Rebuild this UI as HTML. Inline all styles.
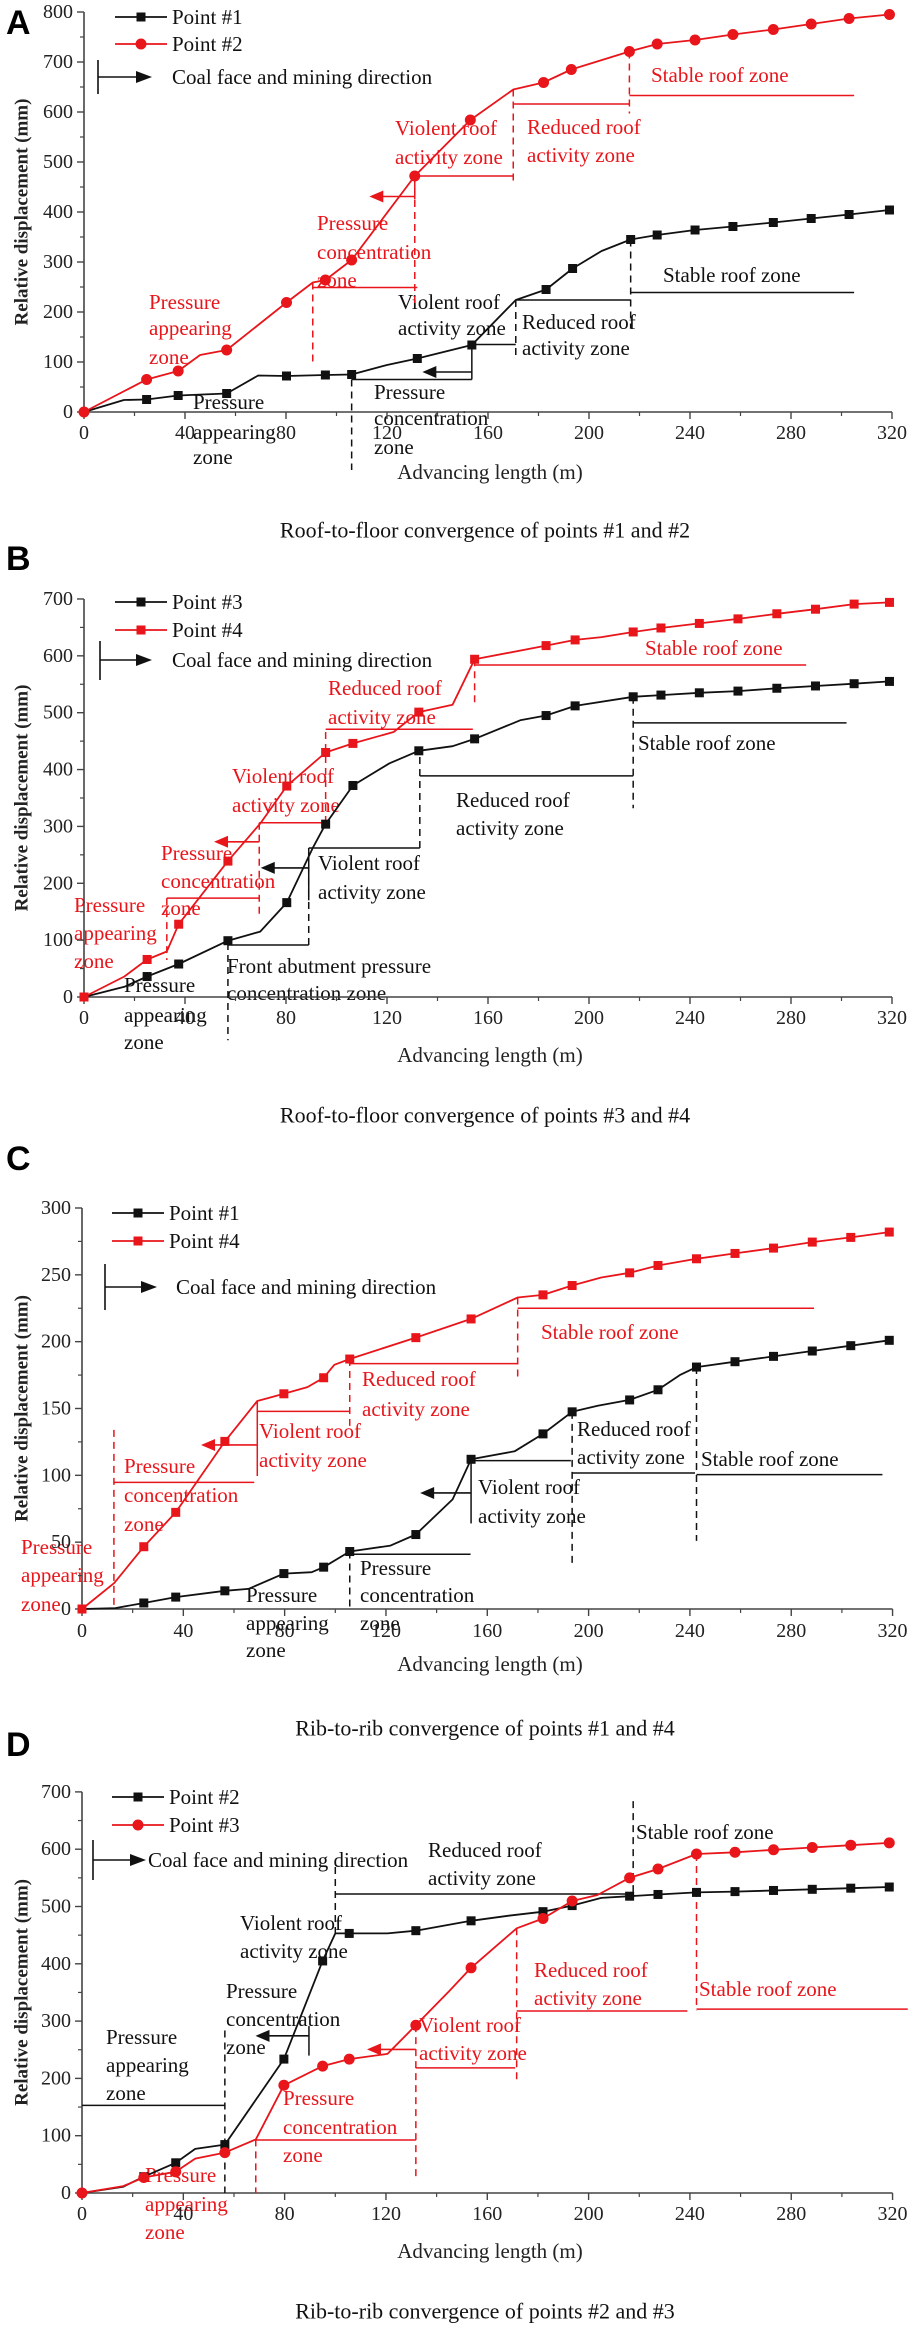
<!DOCTYPE html>
<html><head><meta charset="utf-8"><style>
html,body{margin:0;padding:0;background:#fff}
svg{display:block}
text{font-family:"Liberation Serif","Times New Roman",serif}
.z{font-size:21px}
.r{fill:#e8151b}
.k{fill:#111}
.t{font-size:20px;fill:#222}
.cap{font-size:22px;fill:#111}
.let{font-family:"Liberation Sans",Arial,sans-serif;font-weight:bold;font-size:34px;fill:#000}
</style></head><body>
<svg id="fig" width="913" height="2327" viewBox="0 0 913 2327" xmlns="http://www.w3.org/2000/svg">
<g>
<text class="let" x="6" y="34">A</text>
<text class="z r" x="651" y="75" dominant-baseline="central">Stable roof zone</text>
<text class="z r" x="527" y="127" dominant-baseline="central">Reduced roof</text>
<text class="z r" x="527" y="155" dominant-baseline="central">activity zone</text>
<text class="z r" x="395" y="128" dominant-baseline="central">Violent roof</text>
<text class="z r" x="395" y="157" dominant-baseline="central">activity zone</text>
<text class="z r" x="317" y="223" dominant-baseline="central">Pressure</text>
<text class="z r" x="317" y="252" dominant-baseline="central">concentration</text>
<text class="z r" x="317" y="280" dominant-baseline="central">zone</text>
<text class="z r" x="149" y="302" dominant-baseline="central">Pressure</text>
<text class="z r" x="149" y="328" dominant-baseline="central">appearing</text>
<text class="z r" x="149" y="357" dominant-baseline="central">zone</text>
<text class="z k" x="663" y="275" dominant-baseline="central">Stable roof zone</text>
<text class="z k" x="398" y="302" dominant-baseline="central">Violent roof</text>
<text class="z k" x="398" y="328" dominant-baseline="central">activity zone</text>
<text class="z k" x="522" y="322" dominant-baseline="central">Reduced roof</text>
<text class="z k" x="522" y="348" dominant-baseline="central">activity zone</text>
<text class="z k" x="374" y="392" dominant-baseline="central">Pressure</text>
<text class="z k" x="374" y="418" dominant-baseline="central">concentration</text>
<text class="z k" x="374" y="447" dominant-baseline="central">zone</text>
<text class="z k" x="193" y="402" dominant-baseline="central">Pressure</text>
<text class="z k" x="193" y="432" dominant-baseline="central">appearing</text>
<text class="z k" x="193" y="457" dominant-baseline="central">zone</text>
<text class="cap" x="485" y="530" text-anchor="middle" dominant-baseline="central">Roof-to-floor convergence of points #1 and #2</text>
</g>
<g>
<text class="let" x="6" y="570">B</text>
<text class="z r" x="645" y="648" dominant-baseline="central">Stable roof zone</text>
<text class="z r" x="328" y="688" dominant-baseline="central">Reduced roof</text>
<text class="z r" x="328" y="717" dominant-baseline="central">activity zone</text>
<text class="z r" x="232" y="776" dominant-baseline="central">Violent roof</text>
<text class="z r" x="232" y="805" dominant-baseline="central">activity zone</text>
<text class="z r" x="161" y="853" dominant-baseline="central">Pressure</text>
<text class="z r" x="161" y="881" dominant-baseline="central">concentration</text>
<text class="z r" x="161" y="908" dominant-baseline="central">zone</text>
<text class="z r" x="74" y="905" dominant-baseline="central">Pressure</text>
<text class="z r" x="74" y="933" dominant-baseline="central">appearing</text>
<text class="z r" x="74" y="961" dominant-baseline="central">zone</text>
<text class="z k" x="638" y="743" dominant-baseline="central">Stable roof zone</text>
<text class="z k" x="456" y="800" dominant-baseline="central">Reduced roof</text>
<text class="z k" x="456" y="828" dominant-baseline="central">activity zone</text>
<text class="z k" x="318" y="863" dominant-baseline="central">Violent roof</text>
<text class="z k" x="318" y="892" dominant-baseline="central">activity zone</text>
<text class="z k" x="227" y="966" dominant-baseline="central">Front abutment pressure</text>
<text class="z k" x="227" y="993" dominant-baseline="central">concentration zone</text>
<text class="z k" x="124" y="985" dominant-baseline="central">Pressure</text>
<text class="z k" x="124" y="1015" dominant-baseline="central">appearing</text>
<text class="z k" x="124" y="1042" dominant-baseline="central">zone</text>
<text class="cap" x="485" y="1115" text-anchor="middle" dominant-baseline="central">Roof-to-floor convergence of points #3 and #4</text>
</g>
<g>
<text class="let" x="6" y="1170">C</text>
<text class="z r" x="541" y="1332" dominant-baseline="central">Stable roof zone</text>
<text class="z r" x="362" y="1379" dominant-baseline="central">Reduced roof</text>
<text class="z r" x="362" y="1409" dominant-baseline="central">activity zone</text>
<text class="z r" x="259" y="1431" dominant-baseline="central">Violent roof</text>
<text class="z r" x="259" y="1460" dominant-baseline="central">activity zone</text>
<text class="z r" x="124" y="1466" dominant-baseline="central">Pressure</text>
<text class="z r" x="124" y="1495" dominant-baseline="central">concentration</text>
<text class="z r" x="124" y="1524" dominant-baseline="central">zone</text>
<text class="z r" x="21" y="1547" dominant-baseline="central">Pressure</text>
<text class="z r" x="21" y="1575" dominant-baseline="central">appearing</text>
<text class="z r" x="21" y="1604" dominant-baseline="central">zone</text>
<text class="z k" x="478" y="1487" dominant-baseline="central">Violent roof</text>
<text class="z k" x="478" y="1516" dominant-baseline="central">activity zone</text>
<text class="z k" x="577" y="1429" dominant-baseline="central">Reduced roof</text>
<text class="z k" x="577" y="1457" dominant-baseline="central">activity zone</text>
<text class="z k" x="701" y="1459" dominant-baseline="central">Stable roof zone</text>
<text class="z k" x="360" y="1568" dominant-baseline="central">Pressure</text>
<text class="z k" x="360" y="1595" dominant-baseline="central">concentration</text>
<text class="z k" x="360" y="1623" dominant-baseline="central">zone</text>
<text class="z k" x="246" y="1595" dominant-baseline="central">Pressure</text>
<text class="z k" x="246" y="1623" dominant-baseline="central">appearing</text>
<text class="z k" x="246" y="1650" dominant-baseline="central">zone</text>
<text class="cap" x="485" y="1728" text-anchor="middle" dominant-baseline="central">Rib-to-rib convergence of points #1 and #4</text>
</g>
<g>
<text class="let" x="6" y="1756">D</text>
<text class="z k" x="106" y="2037" dominant-baseline="central">Pressure</text>
<text class="z k" x="106" y="2065" dominant-baseline="central">appearing</text>
<text class="z k" x="106" y="2093" dominant-baseline="central">zone</text>
<text class="z k" x="226" y="1991" dominant-baseline="central">Pressure</text>
<text class="z k" x="226" y="2019" dominant-baseline="central">concentration</text>
<text class="z k" x="226" y="2047" dominant-baseline="central">zone</text>
<text class="z k" x="240" y="1923" dominant-baseline="central">Violent roof</text>
<text class="z k" x="240" y="1951" dominant-baseline="central">activity zone</text>
<text class="z k" x="428" y="1850" dominant-baseline="central">Reduced roof</text>
<text class="z k" x="428" y="1878" dominant-baseline="central">activity zone</text>
<text class="z k" x="636" y="1832" dominant-baseline="central">Stable roof zone</text>
<text class="z r" x="145" y="2175" dominant-baseline="central">Pressure</text>
<text class="z r" x="145" y="2204" dominant-baseline="central">appearing</text>
<text class="z r" x="145" y="2232" dominant-baseline="central">zone</text>
<text class="z r" x="283" y="2098" dominant-baseline="central">Pressure</text>
<text class="z r" x="283" y="2127" dominant-baseline="central">concentration</text>
<text class="z r" x="283" y="2155" dominant-baseline="central">zone</text>
<text class="z r" x="419" y="2025" dominant-baseline="central">Violent roof</text>
<text class="z r" x="419" y="2053" dominant-baseline="central">activity zone</text>
<text class="z r" x="534" y="1970" dominant-baseline="central">Reduced roof</text>
<text class="z r" x="534" y="1998" dominant-baseline="central">activity zone</text>
<text class="z r" x="699" y="1989" dominant-baseline="central">Stable roof zone</text>
<text class="cap" x="485" y="2311" text-anchor="middle" dominant-baseline="central">Rib-to-rib convergence of points #2 and #3</text>
</g>
</svg>
<script>
// ---------- data (advancing length m, displacement mm) ----------
const xTicks = [0,40,80,120,160,200,240,280,320];
const yTicksA = [0,100,200,300,400,500,600,700,800];
const yTicksB = [0,100,200,300,400,500,600,700];
const yTicksC = [0,50,100,150,200,250,300];
const yTicksD = [0,100,200,300,400,500,600,700];

// Panel A
const aP1x = [0,15.8,24.8,37.3,56.5,69,80.2,95.6,106,120,132,153.6,171,183,193.5,205,216.5,227,242,257,273,288,303,319];
const aP1y = [0,24,25,33,37,73,72,74,75,94,107,134,224,245,287,322,345,354,364,371,379,387,395,404];
const aP1m = [0,0,1,1,1,0,1,1,1,0,1,1,0,1,1,0,1,1,1,1,1,1,1,1];
const aP2x = [0,24.8,37.3,46,56.5,80.2,90.6,95.6,106,131,153,170,182,193,216,227,242,257,273,288,303,319];
const aP2y = [0,65,82,114,124,219,259,264,304,472,584,645,659,685,721,736,744,755,765,776,787,795];
const aP2m = [1,1,1,0,1,1,0,1,1,1,1,0,1,1,1,1,1,1,1,1,1,1];

// Panel B
const bP3x = [0,16,25,37.5,57,69.8,80.3,90.8,95.7,106.5,121,132.6,146,154.7,173,183,194.5,217.5,228.5,243.7,259,274.4,289.7,305,319];
const bP3y = [0,18,36,58,99,115,166,264,304,372,411,433,441,454,487,495,512,528,531,535,538,543,547,551,555];
const bP3m = [0,0,1,1,1,0,1,0,1,1,0,1,0,1,0,1,1,1,1,1,1,1,1,1,1];
const bP4x = [0,16,25,32.8,37.5,57,69.8,80.3,95.7,106.5,122.6,132.6,146,154.7,183,194.5,205,217.5,228.5,243.7,259,274.4,289.7,305,319];
const bP4y = [0,36,66,80,128,239,305,371,430,446,466,501,514,594,618,628,633,642,649,657,665,674,682,691,694];
const bP4m = [1,0,1,0,1,1,0,1,1,1,0,1,0,1,1,1,0,1,1,1,1,1,1,1,1];

// Panel C
const cP1x = [0,13.2,24.4,37,56.4,65.7,79.7,90.7,95.4,105.7,121.8,131.8,146.3,153.6,170.8,182,193.5,203.6,216.2,227.4,236,242.6,257.8,273,288.3,303.5,318.7];
const cP1y = [0,0.7,4.5,8.9,13.6,15,26.5,27.5,31.3,43,47.4,55.7,82,112,118,131,147.5,152,156.4,164,175,181,185,189,193,197,201];
const cP1m = [0,0,1,1,1,0,1,0,1,1,0,1,0,1,0,1,1,0,1,1,0,1,1,1,1,1,1];
const cP4x = [0,12.7,24.4,37,56.4,69.2,79.7,89,95.4,99.6,105.7,131.8,153.6,172,182,193.5,205,216.2,227.4,242.6,257.8,273,288.3,303.5,318.7];
const cP4y = [0,19.4,46.6,72.3,125.4,155.6,161,166,173,182.7,187,203,217,233,235,242,248,251.5,257,262,266,270,274.5,278,282];
const cP4m = [1,0,1,1,1,0,1,0,1,0,1,1,1,0,1,1,0,1,1,1,1,1,1,1,1];

// Panel D
const dP2x = [0,16.3,24.4,37,44.7,56.4,79.7,95,100,105.5,120.6,131.8,153.6,168.5,182,193.5,205,216.2,227.4,242.6,257.8,273,288.3,303.5,318.7];
const dP2y = [0,11,28.5,52.7,77,84.5,233.7,405,453,453,453,457.8,475,484,491,501.6,515,518,521,524.6,526,528,530,532,534];
const dP2m = [0,0,1,1,0,1,1,1,0,1,0,1,1,0,1,1,0,1,1,1,1,1,1,1,1];
const dP3x = [0,16.3,24.4,37,44.7,56.4,68.6,79.7,95,105.5,120.6,131.8,145,153.6,171.6,182,193.5,203.5,216.2,227.4,242.6,257.8,273,288.3,303.5,318.7];
const dP3y = [0,12,27,37,60,70.5,93.5,188,221.5,233.7,242.8,292.7,352.5,393,462,479,509.6,520,550,565.4,591.6,594.6,599,603,607,611];
const dP3m = [1,0,1,1,0,1,0,1,1,1,0,1,0,1,0,1,1,0,1,1,1,1,1,1,1,1];

// zone guide segments [x1,y1,x2,y2] in data units
const aRedGuides = [[90.6,249,132,249],[131,472,170,472],[170,616,216,616],[216,633,305,633],[131,472,131,425]];
const aRedDashes = [[90.6,259,90.6,98],[131,472,131,211],[170,645,170,454],[216,721,216,597]];
const aRedArrows = [[131,431,113,431]];
const aBlkGuides = [[106,65,153.6,65],[153.6,134,153.6,65],[153.6,135,171,135],[171,224,216.5,224],[216.5,239,305,239]];
const aBlkDashes = [[106,65,106,-116],[171,224,171,107],[216.5,345,216.5,168]];
const aBlkArrows = [[153.6,80,134,80]];

const bRedGuides = [[32.8,174,69.4,174],[69.4,306.5,96.7,306.5],[95.7,471,154,471],[154.7,584,286,584]];
const bRedDashes = [[32.8,174,32.8,65],[69.4,306.5,69.4,141],[95.7,306,95.7,473],[154.7,594,154.7,510]];
const bRedArrows = [[69.4,273,51.5,273]];
const bBlkGuides = [[57,91.5,89,91.5],[89,262,133,262],[89,262,89,170],[133,389,217.5,389],[217.5,482,302,482]];
const bBlkDashes = [[57,95,57,-76],[89,91.5,89,262],[133,262,133,431],[217.5,528,217.5,332]];
const bBlkArrows = [[89,227,70,227]];

const cRedGuides = [[12.6,94.7,68,94.7],[69.2,155,69.2,99.5],[69.2,147.8,105.5,147.8],[105.7,183.6,172,183.6],[172,225,289,225]];
const cRedDashes = [[12.6,134,12.6,0],[105.7,187,105.7,137],[172,233,172,171]];
const cRedArrows = [[69.2,122.7,47,122.7]];
const cBlkGuides = [[105.7,41,153.4,41],[153.6,111,193,111],[153.6,112,153.6,64],[193.5,101.7,242,101.7],[242.6,100.5,316,100.5]];
const cBlkDashes = [[105.7,43,105.7,0],[193.5,147.5,193.5,33.7],[242.6,181,242.6,51]];
const cBlkArrows = [[153.6,86.8,133.5,86.8]];

const dRedGuides = [[68.6,92.5,131.8,92.5],[131.8,218.3,171,218.3],[171.6,317.6,239,317.6],[242.6,321,326,321]];
const dRedDashes = [[68.6,93.5,68.6,0],[131.8,293,131.8,23.6],[171.6,462,171.6,197],[242.6,591.6,242.6,319]];
const dRedArrows = [[131.8,250.6,112.5,250.6]];
const dBlkGuides = [[0,153,56.4,153],[89.6,291.4,89.6,239.8],[100,521.8,217.6,521.8]];
const dBlkDashes = [[56.4,283.6,56.4,0],[100,569,100,452],[217.6,684,217.6,520]];
const dBlkArrows = [[89.6,274.3,68.5,274.3]];

// ---------- drawing ----------
const NS = 'http://www.w3.org/2000/svg';
const svg = document.getElementById('fig');
const RED = '#e8151b';
function mk(tag, attrs, parent){
  const e = document.createElementNS(NS, tag);
  for (const k in attrs) e.setAttribute(k, attrs[k]);
  (parent||svg).appendChild(e);
  return e;
}
function panel(cfg){
  const g = mk('g', {});
  
  
  const X = v => cfg.x0 + v * cfg.xs;
  const Y = v => cfg.y0 - v * cfg.ys;
  const ymax = cfg.yTicks[cfg.yTicks.length-1];
  const axC = '#444';
  // axes
  const ya = mk('line', {x1:X(0), y1:Y(0), x2:X(0), y2:Y(ymax), stroke:axC, 'stroke-width':1.6}, g);
  
  
  const xa = mk('line', {x1:X(0), y1:Y(0), x2:X(320), y2:Y(0), stroke:axC, 'stroke-width':1.6}, g);
  
  
  // y ticks
  for (let i=0;i<cfg.yTicks.length;i++){
    const v = cfg.yTicks[i];
    mk('line', {x1:X(0)-7, y1:Y(v), x2:X(0), y2:Y(v), stroke:axC, 'stroke-width':1.4}, g);
    if (i < cfg.yTicks.length-1){
      const m = (v + cfg.yTicks[i+1])/2;
      mk('line', {x1:X(0)-4, y1:Y(m), x2:X(0), y2:Y(m), stroke:axC, 'stroke-width':1.2}, g);
    }
    const t = mk('text', {x:X(0)-11, y:Y(v), 'text-anchor':'end', 'dominant-baseline':'central', class:'t'}, g);
    t.textContent = v;
    
    
  }
  // x ticks
  for (let i=0;i<xTicks.length;i++){
    const v = xTicks[i];
    mk('line', {x1:X(v), y1:Y(0), x2:X(v), y2:Y(0)+7, stroke:axC, 'stroke-width':1.4}, g);
    if (i < xTicks.length-1){
      const m = (v + xTicks[i+1])/2;
      mk('line', {x1:X(m), y1:Y(0), x2:X(m), y2:Y(0)+4, stroke:axC, 'stroke-width':1.2}, g);
    }
    const t = mk('text', {x:X(v), y:cfg.xLabY, 'text-anchor':'middle', 'dominant-baseline':'central', class:'t'}, g);
    t.textContent = v;
    
    
  }
  const xt = mk('text', {x:490, y:cfg.xTitleY, 'text-anchor':'middle', 'dominant-baseline':'central', class:'t', style:'font-size:21px'}, g);
  xt.textContent = 'Advancing length (m)';
  
  
  const ym = (Y(0)+Y(ymax))/2;
  const yt = mk('text', {x:22, y:ym, 'text-anchor':'middle', 'dominant-baseline':'central', transform:'rotate(-90 22 '+ym+')', style:'font-size:19px;font-weight:bold;fill:#222'}, g);
  yt.textContent = 'Relative displacement (mm)';
  
  
  // guides
  function seg(arr, color, dashed, nm){
    for (const s of arr){
      const l = mk('line', {x1:X(s[0]), y1:Y(s[1]), x2:X(s[2]), y2:Y(s[3]), stroke:color, 'stroke-width':1.5}, g);
      if (dashed) l.setAttribute('stroke-dasharray', '7,5');
      
      
    }
  }
  function arrows(arr, color, nm){
    for (const s of arr){
      const x1 = X(s[0]), x2 = X(s[2]), y = Y(s[1]);
      const l = mk('line', {x1:x1, y1:y, x2:x2+10, y2:y, stroke:color, 'stroke-width':1.6}, g);
      
      
      const p = mk('polygon', {points:(x2)+','+y+' '+(x2+14)+','+(y-6)+' '+(x2+14)+','+(y+6), fill:color}, g);
      
      
    }
  }
  seg(cfg.rg, RED, false, 'red-zone-guide');
  seg(cfg.rd, RED, true, 'red-zone-boundary');
  arrows(cfg.ra, RED, 'red-direction-arrow');
  seg(cfg.kg, '#111', false, 'black-zone-guide');
  seg(cfg.kd, '#111', true, 'black-zone-boundary');
  arrows(cfg.ka, '#111', 'black-direction-arrow');
  // series
  function series(xs, ys, ms, color, shape, nm){
    let d = '';
    for (let i=0;i<xs.length;i++) d += (i?'L':'M') + X(xs[i]).toFixed(1) + ',' + Y(ys[i]).toFixed(1);
    const p = mk('path', {d:d, fill:'none', stroke:color, 'stroke-width':1.8, 'stroke-linejoin':'round'}, g);
    
    
    for (let i=0;i<xs.length;i++){
      if (!ms[i]) continue;
      let e;
      if (shape === 'c') e = mk('circle', {cx:X(xs[i]), cy:Y(ys[i]), r:5.5, fill:color}, g);
      else e = mk('rect', {x:X(xs[i])-4.5, y:Y(ys[i])-4.5, width:9, height:9, fill:color}, g);
      
      
    }
  }
  series(cfg.s1x, cfg.s1y, cfg.s1m, cfg.s1c, cfg.s1s, cfg.s1n);
  series(cfg.s2x, cfg.s2y, cfg.s2m, cfg.s2c, cfg.s2s, cfg.s2n);
  // legend
  const L = [[cfg.s1c, cfg.s1s, cfg.s1l, cfg.legY[0]],[cfg.s2c, cfg.s2s, cfg.s2l, cfg.legY[1]]];
  for (const e of L){
    const lg = mk('g', {}, g);
    
    
    mk('line', {x1:cfg.legX, y1:e[3], x2:cfg.legX+52, y2:e[3], stroke:e[0], 'stroke-width':1.8}, lg);
    if (e[1]==='c') mk('circle', {cx:cfg.legX+26, cy:e[3], r:5.5, fill:e[0]}, lg);
    else mk('rect', {x:cfg.legX+21.5, y:e[3]-4.5, width:9, height:9, fill:e[0]}, lg);
    const t = mk('text', {x:cfg.legX+57, y:e[3], 'dominant-baseline':'central', class:'z k'}, lg);
    t.textContent = e[2];
  }
  const cf = mk('g', {}, g);
  
  
  const c = cfg.coal;
  mk('line', {x1:c[0], y1:c[1], x2:c[0], y2:c[2], stroke:'#111', 'stroke-width':1.6}, cf);
  mk('line', {x1:c[0], y1:c[3], x2:c[4]-12, y2:c[3], stroke:'#111', 'stroke-width':1.6}, cf);
  mk('polygon', {points:c[4]+','+c[3]+' '+(c[4]-16)+','+(c[3]-6)+' '+(c[4]-16)+','+(c[3]+6), fill:'#111'}, cf);
  const ct = mk('text', {x:c[5], y:c[3], 'dominant-baseline':'central', class:'z k'}, cf);
  ct.textContent = 'Coal face and mining direction';
}

panel({name:'panel-a-chart', x0:84, xs:2.525, y0:412, ys:0.5, yTicks:yTicksA, xLabY:433, xTitleY:472,
  s1x:aP1x, s1y:aP1y, s1m:aP1m, s1c:'#111', s1s:'s', s1n:'point-1', s1l:'Point #1',
  s2x:aP2x, s2y:aP2y, s2m:aP2m, s2c:RED, s2s:'c', s2n:'point-2', s2l:'Point #2',
  rg:aRedGuides, rd:aRedDashes, ra:aRedArrows, kg:aBlkGuides, kd:aBlkDashes, ka:aBlkArrows,
  legX:115, legY:[17,44], coal:[98,60,94,77,152,172]});
panel({name:'panel-b-chart', x0:84, xs:2.525, y0:997, ys:0.5686, yTicks:yTicksB, xLabY:1018, xTitleY:1055,
  s1x:bP3x, s1y:bP3y, s1m:bP3m, s1c:'#111', s1s:'s', s1n:'point-3', s1l:'Point #3',
  s2x:bP4x, s2y:bP4y, s2m:bP4m, s2c:RED, s2s:'s', s2n:'point-4', s2l:'Point #4',
  rg:bRedGuides, rd:bRedDashes, ra:bRedArrows, kg:bBlkGuides, kd:bBlkDashes, ka:bBlkArrows,
  legX:115, legY:[602,630], coal:[100,641,680,660,152,172]});
panel({name:'panel-c-chart', x0:82, xs:2.533, y0:1609, ys:1.3367, yTicks:yTicksC, xLabY:1631, xTitleY:1664,
  s1x:cP1x, s1y:cP1y, s1m:cP1m, s1c:'#111', s1s:'s', s1n:'point-1', s1l:'Point #1',
  s2x:cP4x, s2y:cP4y, s2m:cP4m, s2c:RED, s2s:'s', s2n:'point-4', s2l:'Point #4',
  rg:cRedGuides, rd:cRedDashes, ra:cRedArrows, kg:cBlkGuides, kd:cBlkDashes, ka:cBlkArrows,
  legX:112, legY:[1213,1241], coal:[105,1264,1310,1287,157,176]});
panel({name:'panel-d-chart', x0:82, xs:2.533, y0:2193, ys:0.573, yTicks:yTicksD, xLabY:2214, xTitleY:2251,
  s1x:dP2x, s1y:dP2y, s1m:dP2m, s1c:'#111', s1s:'s', s1n:'point-2', s1l:'Point #2',
  s2x:dP3x, s2y:dP3y, s2m:dP3m, s2c:RED, s2s:'c', s2n:'point-3', s2l:'Point #3',
  rg:dRedGuides, rd:dRedDashes, ra:dRedArrows, kg:dBlkGuides, kd:dBlkDashes, ka:dBlkArrows,
  legX:112, legY:[1797,1825], coal:[93,1840,1880,1860,146,148]});
</script>
</body></html>
